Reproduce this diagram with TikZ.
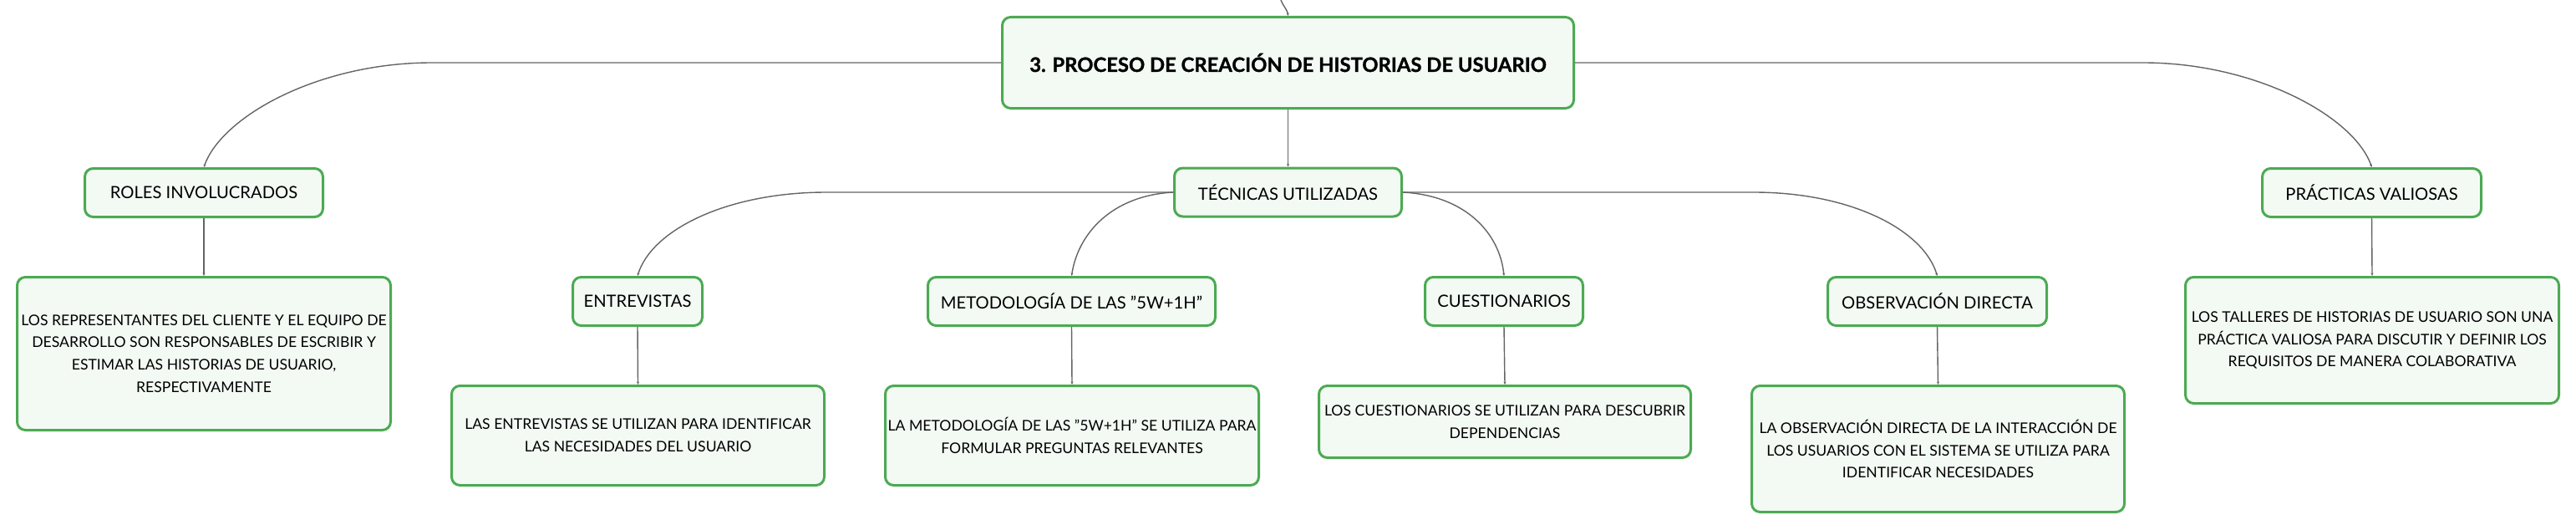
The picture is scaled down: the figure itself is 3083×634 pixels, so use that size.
\documentclass[tikz,border=0pt]{standalone}
\usepackage{fontspec}
\setmainfont{Lato}
\usetikzlibrary{arrows.meta}
\definecolor{boxgreen}{RGB}{76,170,82}
\definecolor{boxfill}{RGB}{243,250,244}
\definecolor{linegray}{RGB}{100,100,100}
\tikzset{
  card/.style={draw=boxgreen, line width=3pt, fill=boxfill, rounded corners=10pt,
    inner sep=0pt, align=center, text=black},
  topic/.style={card, font=\fontsize{20.2}{26}\selectfont},
  detail/.style={card, font=\fontsize{17.6}{26.7}\selectfont},
  conn/.style={draw=linegray, line width=1.4pt, -{Stealth[length=3.5pt,width=3pt]}},
}
\begin{document}
\begin{tikzpicture}[x=1pt,y=-1pt]
\useasboundingbox (0,0) rectangle (3083,634);

\node[card, font=\fontsize{23.8}{28}\selectfont\bfseries\addfontfeature{FakeBold=1.2}, minimum width=684pt, minimum height=109pt] (root) at (1541.5,75) {3. PROCESO DE CREACIÓN DE HISTORIAS DE USUARIO};

\node[topic, minimum width=285pt, minimum height=58pt] (roles) at (244,230.5) {ROLES INVOLUCRADOS};
\node[topic, minimum width=272pt, minimum height=58pt] (tec) at (1541.5,230) {TÉCNICAS UTILIZADAS};
\node[topic, minimum width=262pt, minimum height=58pt] (prac) at (2838.5,230.5) {PRÁCTICAS VALIOSAS};

\node[topic, minimum width=155pt, minimum height=58pt] (ent) at (763,360.5) {ENTREVISTAS};
\node[topic, minimum width=344pt, minimum height=58pt] (met) at (1282.5,360.5) {METODOLOGÍA DE LAS "5W+1H"};
\node[topic, minimum width=189pt, minimum height=58pt] (cue) at (1800,360.5) {CUESTIONARIOS};
\node[topic, minimum width=262pt, minimum height=58pt] (obs) at (2318.5,360.5) {OBSERVACIÓN DIRECTA};

\node[detail, minimum width=447pt, minimum height=183pt] (rolesc) at (244,423) {LOS REPRESENTANTES DEL CLIENTE Y EL EQUIPO DE\\DESARROLLO SON RESPONSABLES DE ESCRIBIR Y\\ESTIMAR LAS HISTORIAS DE USUARIO,\\RESPECTIVAMENTE};
\node[detail, minimum width=446pt, minimum height=119pt] (entc) at (763.5,521) {LAS ENTREVISTAS SE UTILIZAN PARA IDENTIFICAR\\LAS NECESIDADES DEL USUARIO};
\node[detail, minimum width=447pt, minimum height=119pt] (metc) at (1283,521) {LA METODOLOGÍA DE LAS "5W+1H" SE UTILIZA PARA\\FORMULAR PREGUNTAS RELEVANTES};
\node[detail, minimum width=445pt, minimum height=86pt] (cuec) at (1801,504.5) {LOS CUESTIONARIOS SE UTILIZAN PARA DESCUBRIR\\DEPENDENCIAS};
\node[detail, minimum width=446pt, minimum height=151pt] (obsc) at (2319.5,537) {LA OBSERVACIÓN DIRECTA DE LA INTERACCIÓN DE\\LOS USUARIOS CON EL SISTEMA SE UTILIZA PARA\\IDENTIFICAR NECESIDADES};
\node[detail, minimum width=447pt, minimum height=151pt] (pracc) at (2839,407) {LOS TALLERES DE HISTORIAS DE USUARIO SON UNA\\PRÁCTICA VALIOSA PARA DISCUTIR Y DEFINIR LOS\\REQUISITOS DE MANERA COLABORATIVA};

\coordinate (topin) at (1533,0);
\coordinate (lbend) at (517,75);
\coordinate (rbend) at (2565,75);
\coordinate (ebend) at (989,230);
\coordinate (obend) at (2099,230);

\draw[conn] (topin) .. controls (1536,8) and (1541,12) .. (root.north);
\draw[conn] (root.west) -- (lbend) .. controls (380,75) and (265,140) .. (roles.north);
\draw[conn] (root.east) -- (rbend) .. controls (2700,75) and (2818,140) .. (prac.north);
\draw[conn] (root.south) -- (tec.north);

\draw[conn] (tec.west) -- (ebend) .. controls (870,230) and (780,275) .. (ent.north);
\draw[conn] (tec.west) .. controls (1330,234) and (1290,280) .. (met.north);
\draw[conn] (tec.east) .. controls (1755,234) and (1795,280) .. (cue.north);
\draw[conn] (tec.east) -- (obend) .. controls (2215,230) and (2302,275) .. (obs.north);

\draw[conn] (roles.south) -- (rolesc.north);
\draw[conn] (prac.south) -- (pracc.north);
\draw[conn] (ent.south) -- (entc.north);
\draw[conn] (met.south) -- (metc.north);
\draw[conn] (cue.south) -- (cuec.north);
\draw[conn] (obs.south) -- (obsc.north);
\end{tikzpicture}
\end{document}
